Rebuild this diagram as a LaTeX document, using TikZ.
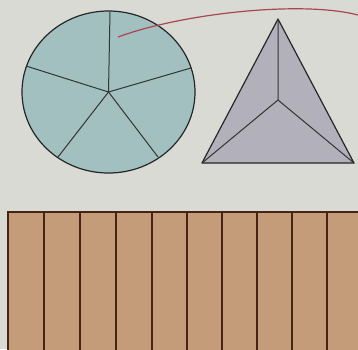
\documentclass[tikz,border=0pt]{standalone}
\begin{document}
\begin{tikzpicture}[x=1pt,y=-1pt,
  outline/.style={draw=black!85, line width=1.2pt, line join=round},
  spoke/.style={draw=black!80, line width=1pt}]
\definecolor{bg}{RGB}{218,218,213}
\definecolor{teal}{RGB}{162,192,192}
\definecolor{lav}{RGB}{178,177,187}
\definecolor{tan}{RGB}{196,156,121}
\definecolor{brn}{RGB}{70,35,20}
\definecolor{redl}{RGB}{170,70,80}
\useasboundingbox (0,0) rectangle (358,349);
\fill[bg] (0,0) rectangle (358,349);
% circle
\coordinate (c) at (108.5,92);
\filldraw[fill=teal, outline] (c) ellipse [x radius=86.5, y radius=81];
\foreach \p in {(110,12),(191,68),(158,157),(58,157),(26,66)}
  \draw[spoke] (c) -- \p;
% red curve
\draw[redl, line width=1.2pt] (118,37) .. controls (180,14) and (300,0) .. (358,15);
% triangle
\coordinate (a) at (278,19);
\coordinate (b) at (202,163);
\coordinate (d) at (354,163);
\coordinate (o) at (278,100);
\filldraw[fill=lav, outline] (a) -- (b) -- (d) -- cycle;
\draw[spoke] (a) -- (o) (b) -- (o) (d) -- (o);
% rectangle
\fill[tan] (8,212) rectangle (360,352);
\draw[brn, line width=1.2pt] (8,352) -- (8,212) -- (360,212);
\foreach \x in {44,80,116,152,187,222,257,292,327}
  \draw[brn, line width=1.2pt] (\x,212) -- (\x,352);
\end{tikzpicture}
\end{document}
